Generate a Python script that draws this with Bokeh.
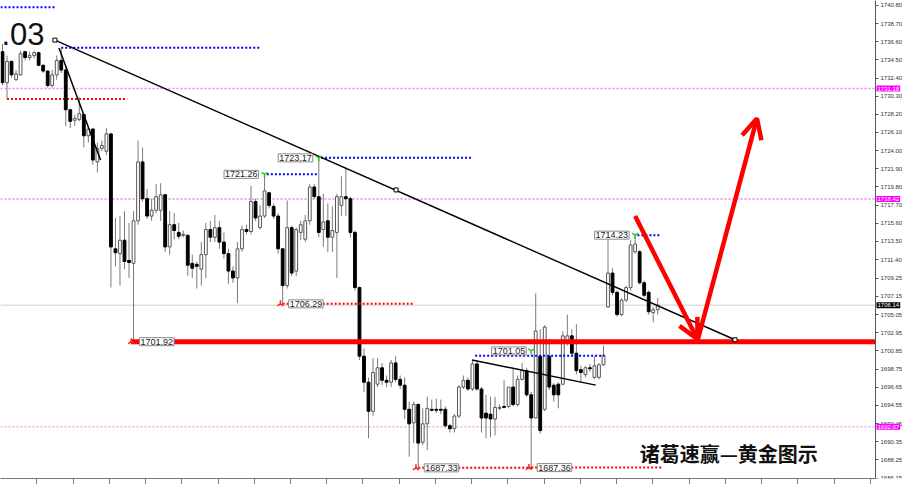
from math import pi
from bokeh.plotting import figure
from bokeh.models import (Range1d, FixedTicker, PrintfTickFormatter, Label, Arrow,
                          OpenHead, ColumnDataSource, CustomLabelingPolicy)
from bokeh.embed import file_html
from bokeh.resources import INLINE

# ---------------- data (XAUUSD candles) ----------------
opens = [1735.44, 1731.86, 1734.32, 1732.20, 1732.76, 1735.44, 1734.77, 1734.99, 1735.33, 1733.87,
         1733.20, 1731.53, 1732.76, 1734.43, 1733.32, 1728.73, 1727.51, 1727.62, 1728.18, 1725.72,
         1726.50, 1722.70, 1724.27, 1723.93, 1725.94, 1712.65, 1712.09, 1713.65, 1711.31, 1710.97,
         1715.89, 1722.70, 1718.45, 1716.44, 1717.11, 1717.11, 1718.90, 1712.87, 1715.44, 1714.55,
         1714.21, 1714.21, 1710.97, 1710.86, 1710.30, 1711.98, 1714.88, 1713.99, 1715.10, 1713.43,
         1712.09, 1710.08, 1709.29, 1712.65, 1714.88, 1714.66, 1718.12, 1715.10, 1716.44, 1719.13,
         1717.56, 1716.44, 1712.65, 1708.40, 1715.10, 1710.08, 1714.55, 1713.76, 1715.89, 1719.80,
         1718.68, 1714.88, 1715.89, 1713.99, 1714.55, 1717.67, 1718.68, 1718.45, 1714.55, 1708.17,
         1700.24, 1697.23, 1693.87, 1697.00, 1698.90, 1697.45, 1697.23, 1699.46, 1697.56, 1696.89,
         1694.10, 1692.53, 1694.66, 1690.30, 1692.42, 1694.10, 1694.10, 1694.10, 1694.10, 1692.20,
         1691.86, 1693.32, 1696.67, 1697.45, 1696.45, 1699.35, 1696.45, 1693.65, 1693.54, 1692.98,
         1694.21, 1694.43, 1694.43, 1696.67, 1694.66, 1697.56, 1698.57, 1695.77, 1693.09, 1700.24,
         1694.10, 1700.24, 1696.89, 1697.00, 1697.00, 1701.92, 1702.59, 1700.58, 1698.68, 1698.12,
         1698.90, 1697.79, 1697.79, 1699.24, 1705.94, 1709.85, 1707.62, 1705.05, 1706.72, 1708.17,
         1712.31, 1712.31, 1708.73, 1707.62, 1705.27, 1705.61]
highs = [1736.33, 1734.99, 1734.43, 1733.32, 1735.55, 1735.55, 1735.44, 1735.55, 1735.44, 1733.98,
         1733.32, 1733.32, 1734.99, 1735.89, 1733.87, 1728.85, 1728.18, 1730.19, 1728.29, 1726.84,
         1726.61, 1724.94, 1725.16, 1726.61, 1726.05, 1716.22, 1716.44, 1717.00, 1715.66, 1717.00,
         1725.16, 1724.38, 1719.57, 1718.45, 1720.13, 1720.24, 1719.01, 1717.00, 1716.78, 1715.66,
         1714.77, 1714.33, 1711.98, 1711.19, 1713.43, 1715.66, 1715.89, 1716.56, 1715.89, 1714.55,
         1712.65, 1710.63, 1713.43, 1715.33, 1715.44, 1719.91, 1718.45, 1717.67, 1721.26, 1719.24,
         1717.90, 1716.78, 1712.76, 1718.23, 1715.33, 1715.10, 1715.89, 1716.56, 1720.13, 1720.13,
         1723.17, 1719.01, 1717.90, 1717.56, 1719.01, 1721.03, 1722.03, 1718.68, 1714.77, 1708.29,
         1701.14, 1697.79, 1700.02, 1700.02, 1699.46, 1698.01, 1699.80, 1700.24, 1698.01, 1697.79,
         1694.99, 1694.99, 1694.77, 1694.21, 1695.55, 1695.22, 1695.33, 1695.22, 1694.43, 1692.42,
         1693.54, 1696.89, 1698.01, 1697.79, 1699.80, 1699.80, 1696.67, 1695.77, 1695.55, 1695.55,
         1694.66, 1697.45, 1696.67, 1698.90, 1698.01, 1699.46, 1698.90, 1696.11, 1707.51, 1703.37,
         1703.82, 1702.25, 1697.12, 1697.23, 1703.15, 1705.05, 1703.37, 1703.93, 1699.13, 1699.13,
         1699.35, 1700.24, 1699.46, 1701.47, 1714.00, 1710.41, 1707.84, 1706.95, 1708.40, 1713.65,
         1714.23, 1712.54, 1708.96, 1707.84, 1705.94, 1706.95]
lows = [1731.53, 1729.96, 1732.42, 1732.09, 1732.65, 1734.43, 1734.43, 1734.66, 1733.76, 1732.98,
        1731.30, 1731.30, 1732.20, 1732.98, 1726.84, 1726.61, 1726.84, 1727.39, 1724.38, 1724.94,
        1722.37, 1721.47, 1723.93, 1723.48, 1708.17, 1710.63, 1708.40, 1710.30, 1709.29, 1701.92,
        1715.44, 1718.12, 1716.11, 1715.89, 1716.78, 1715.89, 1712.31, 1711.98, 1713.76, 1713.76,
        1713.99, 1709.52, 1709.29, 1708.06, 1708.40, 1709.29, 1713.43, 1713.43, 1712.65, 1711.53,
        1708.62, 1708.73, 1706.39, 1712.31, 1714.32, 1714.32, 1715.89, 1714.88, 1716.22, 1717.34,
        1716.11, 1712.09, 1706.29, 1708.06, 1709.52, 1709.52, 1713.65, 1713.43, 1715.44, 1718.45,
        1713.99, 1712.87, 1712.31, 1712.31, 1709.29, 1716.44, 1716.44, 1713.99, 1707.84, 1699.80,
        1696.11, 1690.75, 1693.32, 1696.67, 1696.89, 1696.67, 1696.67, 1697.23, 1696.45, 1692.98,
        1688.62, 1690.19, 1687.33, 1689.96, 1689.41, 1693.87, 1693.65, 1693.54, 1691.98, 1691.42,
        1691.42, 1693.09, 1696.45, 1696.22, 1696.22, 1696.22, 1691.42, 1690.75, 1690.86, 1691.08,
        1693.98, 1694.21, 1694.21, 1694.43, 1694.43, 1697.45, 1695.55, 1687.36, 1693.09, 1691.30,
        1693.87, 1696.33, 1694.99, 1694.21, 1696.89, 1701.47, 1700.35, 1698.12, 1697.23, 1697.79,
        1698.46, 1697.56, 1697.56, 1699.13, 1705.83, 1707.28, 1704.82, 1704.82, 1706.50, 1707.84,
        1712.09, 1708.51, 1707.05, 1705.05, 1704.15, 1705.05]
closes = [1731.86, 1734.32, 1732.76, 1732.87, 1735.21, 1734.77, 1734.99, 1735.33, 1733.87, 1733.20,
          1731.53, 1732.76, 1734.43, 1733.32, 1728.73, 1727.39, 1727.73, 1728.29, 1725.72, 1726.50,
          1722.92, 1724.27, 1724.60, 1725.94, 1712.87, 1712.20, 1713.65, 1711.19, 1711.08, 1715.89,
          1722.70, 1718.45, 1716.44, 1717.11, 1718.68, 1718.90, 1712.87, 1715.44, 1714.77, 1714.10,
          1714.33, 1710.75, 1710.41, 1710.63, 1711.98, 1714.88, 1713.99, 1715.10, 1713.43, 1712.09,
          1710.08, 1709.29, 1712.65, 1714.88, 1714.66, 1718.12, 1716.22, 1716.44, 1719.35, 1717.67,
          1716.44, 1712.65, 1708.40, 1715.10, 1709.85, 1714.88, 1715.44, 1715.89, 1719.80, 1718.68,
          1714.55, 1715.77, 1713.99, 1714.77, 1718.68, 1718.68, 1718.45, 1714.55, 1708.17, 1700.24,
          1697.23, 1693.87, 1698.35, 1698.90, 1697.45, 1697.23, 1699.46, 1697.56, 1696.89, 1694.10,
          1692.42, 1694.66, 1690.19, 1692.42, 1694.21, 1693.98, 1693.98, 1693.98, 1692.20, 1691.86,
          1693.32, 1696.67, 1697.45, 1696.45, 1699.35, 1696.45, 1693.09, 1693.09, 1692.98, 1694.32,
          1694.32, 1694.32, 1696.67, 1694.66, 1697.56, 1698.57, 1695.77, 1693.09, 1703.15, 1691.64,
          1703.60, 1696.67, 1695.77, 1695.77, 1702.59, 1702.59, 1700.58, 1698.57, 1698.35, 1698.90,
          1698.79, 1699.13, 1699.24, 1700.35, 1709.85, 1707.62, 1705.05, 1706.72, 1708.17, 1713.09,
          1713.20, 1708.73, 1707.28, 1705.38, 1705.61, 1706.14]

price_ticks = [1740.80, 1738.70, 1736.60, 1734.50, 1732.40, 1730.30, 1728.20, 1726.10, 1724.00,
               1721.90, 1719.80, 1717.70, 1715.60, 1713.50, 1711.40, 1709.25, 1707.15, 1705.05,
               1702.95, 1700.85, 1698.75, 1696.65, 1694.55, 1692.45, 1690.35, 1688.25, 1686.15]

# horizontal levels
magenta_levels = [1731.18, 1718.42, 1692.07]
bid_price = 1706.14
support_level = 1701.92

# price labels placed on candles: (text, candle index, price, dotted line end index)
high_labels = [("1723.17", 70, 1723.17, 104.0), ("1721.26", 58, 1721.26, 69.6),
               ("1714.23", 140, 1714.23, 145.6)]
low_labels = [("1706.29", 62, 1706.29, 91.0), ("1701.92", 29, 1701.92, None),
              ("1687.33", 92, 1687.33, 117.7), ("1687.36", 117, 1687.36, 145.8)]

# trend lines: (x0, p0, x1, p1) in candle index / price
trend_main = (11.6, 1736.78, 162.1, 1702.14)
trend_short = (12.5, 1735.88, 21.7, 1722.92)
trend_small = (103.9, 1699.80, 131.3, 1696.89)

X0, XA, X1 = -0.44, 193.2, 199.17     # left edge, price-axis position, right edge
Y0, Y1 = 1686.10, 1741.36

p = figure(width=902, height=484, x_range=Range1d(X0, X1), y_range=Range1d(Y0, Y1),
           output_backend="svg", toolbar_location=None, y_axis_location="right",
           min_border_left=0, min_border_top=0, min_border_bottom=0, min_border_right=0)
p.outline_line_color = None
p.grid.visible = False
p.background_fill_color = "white"
p.border_fill_color = "white"

ya = p.yaxis[0]
ya.fixed_location = XA
ya.ticker = FixedTicker(ticks=price_ticks)
ya.formatter = PrintfTickFormatter(format="%.2f")
ya.major_label_text_font = "Liberation Sans"
ya.major_label_text_font_size = "6px"
ya.major_label_text_color = "#333333"
ya.axis_line_color = "#555555"
ya.major_tick_line_color = "#555555"
ya.major_tick_out = 3
ya.major_tick_in = 0
ya.minor_tick_line_color = None
ya.major_label_standoff = 2

xa = p.xaxis[0]
xa.ticker = FixedTicker(ticks=[7.6 + 8.02 * k for k in range(25)])
xa.bounds = (X0, XA)
xa.major_label_text_font_size = "0px"
xa.major_label_policy = CustomLabelingPolicy(code="return []")
xa.major_label_standoff = 0
xa.axis_line_color = "#777777"
xa.major_tick_line_color = "#777777"
xa.major_tick_out = 6
xa.major_tick_in = 0
xa.minor_tick_line_color = None

# horizontal level lines (up to the price axis)
p.segment(x0=[X0] * 3, y0=magenta_levels, x1=[XA] * 3, y1=magenta_levels,
          line_color="#ee82ee", line_dash="2 2", line_width=[1.5, 1.5, 1])
p.segment(x0=[X0], y0=[bid_price], x1=[XA], y1=[bid_price], line_color="#cfcfcf", line_width=1)

# dotted lines from old swing points
p.segment(x0=[X0, 13], y0=[1740.58, 1735.89], x1=[11.6, 56.9], y1=[1740.58, 1735.89],
          line_color="#0000ff", line_dash="2 2", line_width=2)
p.segment(x0=[1], y0=[1729.96], x1=[27.6], y1=[1729.96],
          line_color="#ff0000", line_dash="2 2", line_width=2)

# candles
idx = list(range(len(opens)))
up = [i for i in idx if closes[i] >= opens[i]]
dn = [i for i in idx if closes[i] < opens[i]]
wick = ColumnDataSource(dict(x=idx, h=highs, l=lows))
p.segment(x0="x", y0="l", x1="x", y1="h", source=wick, line_color="#7a7a7a", line_width=1)
src_up = ColumnDataSource(dict(x=up, t=[closes[i] for i in up], b=[opens[i] for i in up]))
src_dn = ColumnDataSource(dict(x=dn, t=[opens[i] for i in dn], b=[closes[i] for i in dn]))
p.vbar(x="x", top="t", bottom="b", width=0.62, source=src_up, fill_color="white",
       line_color="#555555", line_width=1)
p.vbar(x="x", top="t", bottom="b", width=0.62, source=src_dn, fill_color="black",
       line_color="black", line_width=1)

# dotted lines of price labels
for txt, i, pr, end in high_labels:
    p.segment(x0=[i + 0.5], y0=[pr], x1=[end], y1=[pr], line_color="#0000ff",
              line_dash="2 2", line_width=2)
for txt, i, pr, end in low_labels:
    if end is not None:
        p.segment(x0=[i], y0=[pr], x1=[end], y1=[pr], line_color="#ff0000",
                  line_dash="2 2", line_width=2)
p.segment(x0=[104.6], y0=[1700.30], x1=[133.2], y1=[1700.30], line_color="#0000ff",
          line_dash="2 2", line_width=2)

# thick red support line
p.segment(x0=[28.4], y0=[support_level], x1=[XA], y1=[support_level],
          line_color="#ff0000", line_width=5)

# trend lines
for (a, b, c, d), w in [(trend_main, 1.4), (trend_short, 1.5), (trend_small, 1.4)]:
    p.line([a, c], [b, d], line_color="black", line_width=w)
p.scatter([trend_main[0], trend_main[2], 87.1], [trend_main[1], trend_main[3], 1719.46],
          marker="square", size=4, fill_color="white", line_color="black")

# markers next to price labels
p.scatter([h[1] for h in high_labels] + [117], [h[2] for h in high_labels] + [1700.85],
          marker="y", size=7, line_color="#22cc22", line_width=1.5)
p.scatter([l[1] - 0.5 for l in low_labels], [l[2] for l in low_labels], marker="y", angle=pi,
          size=7, line_color="#ff2020", line_width=1.5)

# price label boxes
def box(txt, x, y, off, align):
    p.add_layout(Label(x=x, y=y, x_offset=off, text=txt, text_align=align,
                       text_baseline="middle", text_font="Liberation Sans",
                       text_font_size="9px", text_color="#222222",
                       background_fill_color="white", border_line_color="#8a8a8a",
                       padding=1))

for txt, i, pr, end in high_labels:
    box(txt, i, pr, -6, "right")
box("1701.05", 117, 1700.85, -5, "right")
for txt, i, pr, end in low_labels:
    box(txt, i, pr, 6, "left")

# red arrows
for xs, ys, xe, ye in [(140.0, 1716.44, 153.8, 1702.2), (153.9, 1702.2, 166.96, 1727.73)]:
    p.add_layout(Arrow(x_start=xs, y_start=ys, x_end=xe, y_end=ye, line_color="#ff0000",
                       line_width=4.5,
                       end=OpenHead(size=20, line_color="#ff0000", line_width=4.5)))

# big partial price text at top-left
p.add_layout(Label(x=X0, y=1737.5, x_offset=1, text=".03", text_align="left",
                   text_baseline="middle", text_font="Liberation Sans",
                   text_font_size="31px", text_color="#111111"))

# watermark
p.add_layout(Label(x=141.0, y=1688.95, text="诸葛速赢—黄金图示", text_align="left",
                   text_baseline="middle", text_font="Noto Sans CJK SC",
                   text_font_size="20px", text_font_style="bold", text_color="#111111"))

# coloured price boxes on the price axis
for lv, bg in [(1731.18, "#ff00ff"), (1718.42, "#ff00ff"), (bid_price, "#000000"),
               (1692.07, "#ff00ff")]:
    p.add_layout(Label(x=XA, y=lv, x_offset=1, text="%.2f" % lv, text_align="left",
                       text_baseline="middle", text_font="Liberation Sans",
                       text_font_size="6px", text_color="white",
                       background_fill_color=bg, padding=1))

open("out.html", "w").write(file_html(p, INLINE))
